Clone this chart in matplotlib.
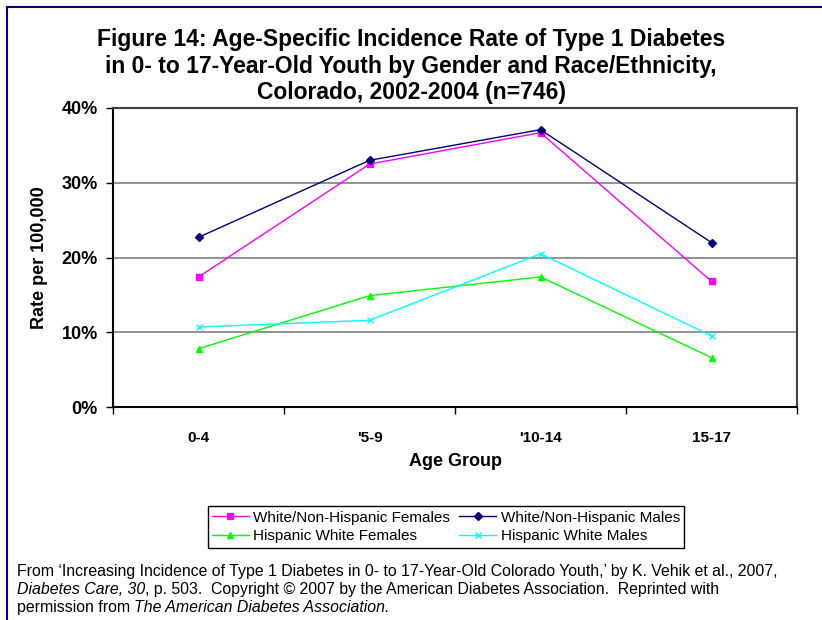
import matplotlib.pyplot as plt
from matplotlib.lines import Line2D
from matplotlib.ticker import FuncFormatter

plt.rcParams['font.family'] = ['Liberation Sans', 'DejaVu Sans']

age_groups = ['0-4', "'5-9", "'10-14", '15-17']
white_females = [17.4, 32.5, 36.7, 16.8]
white_males = [22.7, 33.0, 37.1, 22.0]
hispanic_females = [7.8, 14.9, 17.4, 6.6]
hispanic_males = [10.7, 11.6, 20.5, 9.5]

fig = plt.figure(figsize=(8.22, 6.2), dpi=100)
ax = fig.add_axes([113 / 822, 1 - 407 / 620, 684 / 822, 299 / 620])

x = list(range(1, len(age_groups) + 1))
l_wf, = ax.plot(x, white_females, color='#ff00ff', lw=1, marker='s', ms=5,
                label='White/Non-Hispanic Females')
l_wm, = ax.plot(x, white_males, color='#000080', lw=1, marker='D', ms=4,
                label='White/Non-Hispanic Males')
l_hf, = ax.plot(x, hispanic_females, color='#00ff00', lw=1, marker='^', ms=5,
                label='Hispanic White Females')
l_hm, = ax.plot(x, hispanic_males, color='#00ffff', lw=1, marker='x', ms=5,
                mew=1, label='Hispanic White Males')

ax.set_xlim(0.5, 4.5)
ax.set_ylim(0, 40)
ax.set_yticks([0, 10, 20, 30, 40])
ax.yaxis.set_major_formatter(FuncFormatter(lambda v, p: f'{v:.0f}%'))
ax.set_xticks([0.5, 1.5, 2.5, 3.5, 4.5])
ax.set_xticklabels([])
ax.set_xticks(x, minor=True)
ax.set_xticklabels(age_groups, minor=True, fontsize=11, fontweight='bold')
ax.tick_params(axis='x', which='minor', length=0, pad=17)
ax.tick_params(axis='x', which='major', length=5, color='black', width=1)
ax.tick_params(axis='y', length=5, width=1, labelsize=13, pad=6)
for lbl in ax.get_yticklabels():
    lbl.set_fontweight('bold')

ax.grid(axis='y', color='#808080', lw=1.2)
ax.set_axisbelow(True)
for side in ['left', 'bottom']:
    ax.spines[side].set_color('black')
    ax.spines[side].set_linewidth(1.5)
for side in ['top', 'right']:
    ax.spines[side].set_color('#404040')
    ax.spines[side].set_linewidth(1.5)

ax.set_xlabel('Age Group', fontsize=13, fontweight='bold', labelpad=6)
ax.set_ylabel('Rate per 100,000', fontsize=13, fontweight='bold', labelpad=10)

fig.text(0.5, 1 - 66 / 620,
         'Figure 14: Age-Specific Incidence Rate of Type 1 Diabetes\n'
         'in 0- to 17-Year-Old Youth by Gender and Race/Ethnicity,\n'
         'Colorado, 2002-2004 (n=746)',
         ha='center', va='center', fontsize=16.5, fontweight='bold',
         linespacing=1.22)

# legend filled row by row
fig.legend([l_wf, l_hf, l_wm, l_hm],
           [l.get_label() for l in (l_wf, l_hf, l_wm, l_hm)],
           ncol=2, loc='center',
           bbox_to_anchor=(446 / 822, 1 - 527 / 620), fontsize=11,
           frameon=True, fancybox=False, edgecolor='black',
           borderpad=0.3, handlelength=2.4, handletextpad=0.3,
           columnspacing=0.6, labelspacing=0.3, framealpha=1)

# source note, italic parts chained after the plain parts
fig.text(17 / 822, 1 - 576 / 620,
         "From \u2018Increasing Incidence of Type 1 Diabetes in 0- to 17-Year-Old "
         "Colorado Youth,\u2019 by K. Vehik et al., 2007,",
         fontsize=11.4, va='baseline')
t = fig.text(17 / 822, 1 - 594 / 620, 'Diabetes Care, 30', fontsize=11.4,
             va='baseline', style='italic')
ax.annotate(', p. 503.  Copyright \u00a9 2007 by the American Diabetes '
            'Association.  Reprinted with', xy=(1, 0), xycoords=t,
            va='bottom', fontsize=11.4, annotation_clip=False)
t2 = fig.text(17 / 822, 1 - 612 / 620, 'permission from ', fontsize=11.4,
              va='baseline')
ax.annotate('The American Diabetes Association.', xy=(1, 0), xycoords=t2,
            va='bottom', fontsize=11.4, style='italic', annotation_clip=False)

# border lines on the left and top edges
fig.add_artist(Line2D([7 / 822, 7 / 822], [0, 1 - 7 / 620],
                      color='#000080', lw=1.5))
fig.add_artist(Line2D([7 / 822, 1], [1 - 7 / 620, 1 - 7 / 620],
                      color='#000080', lw=1.5))

fig.savefig('out.png', dpi=100)
